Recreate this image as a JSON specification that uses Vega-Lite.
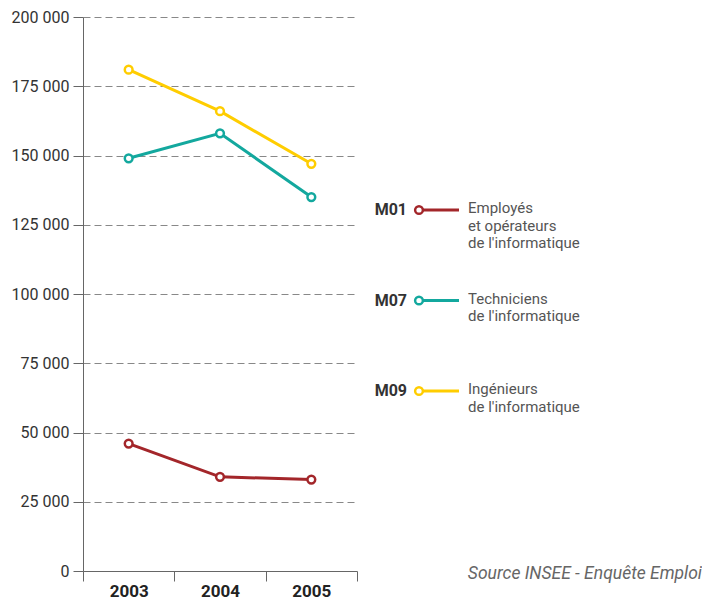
{
  "$schema": "https://vega.github.io/schema/vega-lite/v6.json",
  "padding": {"left": 11, "top": 9, "right": 0, "bottom": 0},
  "background": "white",
  "bounds": "flush",
  "spacing": 20,
  "config": {"view": {"stroke": null}, "font": "Roboto"},
  "datasets": {
    "series": [
      {"code": "M01", "year": "2003", "value": 46000},
      {"code": "M01", "year": "2004", "value": 34000},
      {"code": "M01", "year": "2005", "value": 33000},
      {"code": "M07", "year": "2003", "value": 149000},
      {"code": "M07", "year": "2004", "value": 158000},
      {"code": "M07", "year": "2005", "value": 135000},
      {"code": "M09", "year": "2003", "value": 181000},
      {"code": "M09", "year": "2004", "value": 166000},
      {"code": "M09", "year": "2005", "value": 147000}
    ],
    "legend": [
      {"code": "M01", "label": "Employés\net opérateurs\nde l'informatique"},
      {"code": "M07", "label": "Techniciens\nde l'informatique"},
      {"code": "M09", "label": "Ingénieurs\nde l'informatique"}
    ]
  },
  "hconcat": [
    {
      "width": 274,
      "height": 554,
      "data": {"name": "series"},
      "encoding": {
        "x": {
          "field": "year", "type": "ordinal",
          "scale": {"type": "band", "paddingInner": 0, "paddingOuter": 0},
          "axis": {
            "title": null, "labelAngle": 0, "tickBand": "extent", "tickSize": 10,
            "tickColor": "#666", "domainColor": "#666", "labelFontWeight": "bold",
            "labelFontSize": 17, "labelColor": "#222", "labelPadding": 2, "grid": false
          }
        },
        "y": {
          "field": "value", "type": "quantitative",
          "scale": {"domain": [0, 200000], "nice": false},
          "axis": {
            "title": null, "values": [0, 25000, 50000, 75000, 100000, 125000, 150000, 175000, 200000],
            "labelExpr": "replace(format(datum.value, ','), ',', ' ')",
            "tickSize": 10, "tickColor": "#666", "domainColor": "#666", "labelPadding": 4,
            "labelFontSize": 16, "labelColor": "#333",
            "grid": true, "gridDash": [7, 4], "gridColor": "#888"
          }
        },
        "color": {
          "field": "code", "type": "nominal",
          "scale": {"domain": ["M01", "M07", "M09"], "range": ["#a3262a", "#13a89e", "#ffcd00"]},
          "legend": null
        }
      },
      "layer": [
        {"mark": {"type": "line", "strokeWidth": 3}},
        {"mark": {"type": "point", "filled": false, "fill": "white", "strokeWidth": 2.5, "size": 60, "opacity": 1}}
      ]
    },
    {
      "width": 325,
      "height": 554,
      "data": {"name": "legend"},
      "title": {
        "text": "Source INSEE - Enquête Emploi", "orient": "bottom", "anchor": "end",
        "fontStyle": "italic", "fontWeight": "normal", "fontSize": 17.5, "color": "#666", "offset": -6
      },
      "encoding": {
        "y": {
          "field": "code", "type": "nominal",
          "scale": {"type": "point", "domain": ["M01", "M07", "M09"], "range": [193, 374], "padding": 0},
          "axis": null
        },
        "color": {
          "field": "code", "type": "nominal",
          "scale": {"domain": ["M01", "M07", "M09"], "range": ["#a3262a", "#13a89e", "#ffcd00"]},
          "legend": null
        }
      },
      "layer": [
        {"mark": {"type": "tick", "orient": "horizontal", "size": 40, "thickness": 3, "xOffset": -100.5, "opacity": 1}},
        {"mark": {"type": "point", "filled": false, "fill": "white", "strokeWidth": 2.5, "size": 60, "xOffset": -120.5, "opacity": 1}},
        {
          "mark": {"type": "text", "align": "right", "baseline": "middle", "dx": -132.5, "fontWeight": "bold", "fontSize": 16},
          "encoding": {"text": {"field": "code"}, "color": {"value": "#333"}}
        },
        {
          "mark": {"type": "text", "align": "left", "baseline": "top", "dx": -71.5, "dy": -9, "fontSize": 15, "lineHeight": 17.5, "lineBreak": "\n"},
          "encoding": {"text": {"field": "label"}, "color": {"value": "#555"}}
        }
      ]
    }
  ]
}
